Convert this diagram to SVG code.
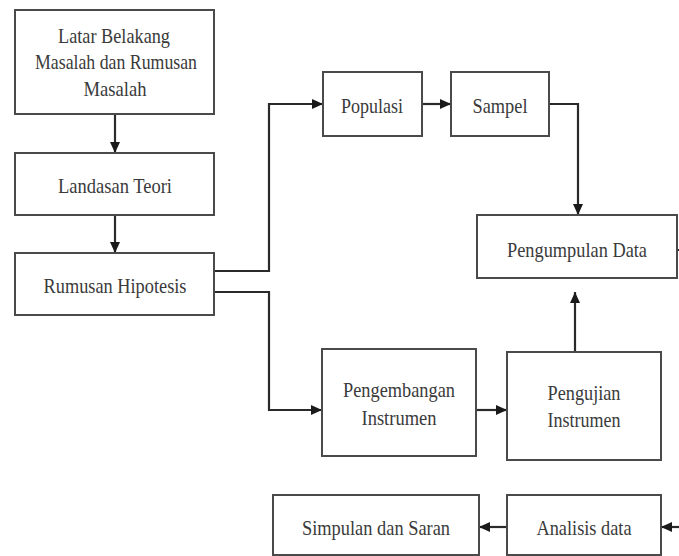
<svg xmlns="http://www.w3.org/2000/svg" width="679" height="556" viewBox="0 0 679 556">
<style>
.box{fill:#fff;stroke:#4a4a4a;stroke-width:2}
.t{font-family:"Liberation Serif","Times New Roman",serif;font-size:21px;fill:#3a3a3a;text-anchor:middle}
.c{fill:none;stroke:#2a2a2a;stroke-width:2.2}
</style>
<defs>
<marker id="ah" markerUnits="userSpaceOnUse" markerWidth="12" markerHeight="12" refX="11" refY="6" orient="auto">
<path d="M0,1 L11,6 L0,11 Z" fill="#1a1a1a"/>
</marker>
</defs>
<rect width="679" height="556" fill="#fff"/>
<g id="connectors">
<path class="c" d="M115 114 V153" marker-end="url(#ah)"/>
<path class="c" d="M115 215 V253" marker-end="url(#ah)"/>
<path class="c" d="M214 271 H269 V104 H323" marker-end="url(#ah)"/>
<path class="c" d="M214 292 H269 V410 H322" marker-end="url(#ah)"/>
<path class="c" d="M422 104 H451" marker-end="url(#ah)"/>
<path class="c" d="M549 104 H578 V215" marker-end="url(#ah)"/>
<path class="c" d="M575 352 V292" marker-end="url(#ah)"/>
<path class="c" d="M476 410 H507" marker-end="url(#ah)"/>
<path class="c" d="M677 250 H680"/>
<path class="c" d="M680 527 H661" marker-end="url(#ah)"/>
<path class="c" d="M507 527 H479" marker-end="url(#ah)"/>
</g>
<g id="latar">
<rect class="box" x="15" y="10" width="199" height="104"/>
<text class="t" x="114" y="43" textLength="112" lengthAdjust="spacingAndGlyphs">Latar Belakang</text>
<text class="t" x="116" y="69" textLength="162" lengthAdjust="spacingAndGlyphs">Masalah dan Rumusan</text>
<text class="t" x="115" y="96" textLength="63" lengthAdjust="spacingAndGlyphs">Masalah</text>
</g>
<g id="landasan">
<rect class="box" x="15" y="153" width="199" height="62"/>
<text class="t" x="115" y="193" textLength="114" lengthAdjust="spacingAndGlyphs">Landasan Teori</text>
</g>
<g id="rumusan">
<rect class="box" x="15" y="253" width="199" height="62"/>
<text class="t" x="115" y="293" textLength="143" lengthAdjust="spacingAndGlyphs">Rumusan Hipotesis</text>
</g>
<g id="populasi">
<rect class="box" x="323" y="72" width="99" height="64"/>
<text class="t" x="372" y="113" textLength="62" lengthAdjust="spacingAndGlyphs">Populasi</text>
</g>
<g id="sampel">
<rect class="box" x="451" y="72" width="98" height="64"/>
<text class="t" x="500" y="113" textLength="55" lengthAdjust="spacingAndGlyphs">Sampel</text>
</g>
<g id="pengumpulan">
<rect class="box" x="477" y="215" width="200" height="63"/>
<text class="t" x="577" y="257" textLength="140" lengthAdjust="spacingAndGlyphs">Pengumpulan Data</text>
</g>
<g id="pengembangan">
<rect class="box" x="322" y="349" width="154" height="107"/>
<text class="t" x="399" y="397" textLength="112" lengthAdjust="spacingAndGlyphs">Pengembangan</text>
<text class="t" x="399" y="425" textLength="75" lengthAdjust="spacingAndGlyphs">Instrumen</text>
</g>
<g id="pengujian">
<rect class="box" x="507" y="352" width="154" height="108"/>
<text class="t" x="584" y="400" textLength="73" lengthAdjust="spacingAndGlyphs">Pengujian</text>
<text class="t" x="584" y="427" textLength="73" lengthAdjust="spacingAndGlyphs">Instrumen</text>
</g>
<g id="simpulan">
<rect class="box" x="273" y="495" width="206" height="60"/>
<text class="t" x="376" y="535" textLength="148" lengthAdjust="spacingAndGlyphs">Simpulan dan Saran</text>
</g>
<g id="analisis">
<rect class="box" x="507" y="495" width="154" height="60"/>
<text class="t" x="584" y="535" textLength="95" lengthAdjust="spacingAndGlyphs">Analisis data</text>
</g>
</svg>
